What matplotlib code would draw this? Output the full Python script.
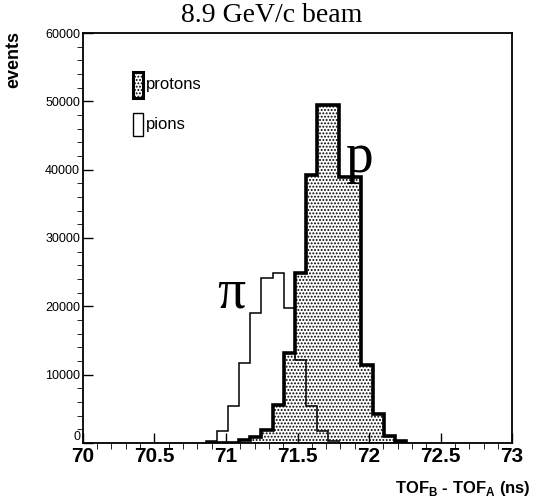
import numpy as np
import matplotlib.pyplot as plt

plt.rcParams['mathtext.fontset'] = 'custom'
plt.rcParams['mathtext.bf'] = 'Liberation Sans:bold'
plt.rcParams['hatch.linewidth'] = 0.9

# time-of-flight histograms, common binning
bin_width = 0.0776
first_edge = 70.86
pion_counts = [300, 1800, 5400, 11700, 19000, 24200, 24900, 19800, 12200,
               5400, 1800, 300, 0, 0, 0, 0, 0, 0]
proton_counts = [0, 0, 0, 400, 900, 1900, 5500, 13200, 24900, 39200,
                 49500, 49500, 39000, 39000, 11400, 4200, 1000, 300]
edges = first_edge + bin_width * np.arange(len(pion_counts) + 1)

fig = plt.figure(figsize=(5.38, 5.01), dpi=100)
ax = fig.add_axes([0.154, 0.116, 0.798, 0.818])

# protons: dotted fill plus thick outline
ax.stairs(proton_counts, edges, fill=True, facecolor='white', edgecolor='black',
          hatch='.....', linewidth=0)
ax.stairs(proton_counts, edges, color='black', linewidth=2.6)
# pions: thin outline only
ax.stairs(pion_counts, edges, color='black', linewidth=1.1)

ax.set_xlim(70, 73)
ax.set_ylim(0, 60000)
ax.set_xticks(np.arange(70, 73.01, 0.5))
ax.set_xticklabels(['70', '70.5', '71', '71.5', '72', '72.5', '73'])
ax.set_xticks(np.arange(70, 73.01, 0.1), minor=True)
ax.set_yticks(np.arange(0, 60001, 10000))
ax.set_yticks(np.arange(0, 60001, 2000), minor=True)
ax.tick_params(direction='in', top=False, right=False, width=1.0)
ax.tick_params(which='major', length=7)
ax.tick_params(which='minor', length=4)
for lab in ax.get_xticklabels():
    lab.set_fontfamily('Liberation Sans')
    lab.set_fontweight('bold')
    lab.set_fontsize(15)
for lab in ax.get_yticklabels():
    lab.set_fontfamily('Liberation Sans')
    lab.set_fontsize(9)
# lift the zero label so it clears the x labels
ax.get_yticklabels()[0].set_verticalalignment('bottom')
ax.tick_params(axis='y', pad=2)
ax.tick_params(axis='x', pad=3)
for sp in ax.spines.values():
    sp.set_linewidth(1.3)

ax.set_ylabel('events', fontfamily='Liberation Sans', fontweight='bold',
              fontsize=13)
ax.yaxis.set_label_coords(-0.14, 0.935)
ax.set_xlabel(r'TOF$_{\mathbf{B}}$ - TOF$_{\mathbf{A}}$ (ns)',
              fontfamily='Liberation Sans', fontweight='bold', fontsize=12)
ax.xaxis.set_label_coords(1.043, -0.088)
ax.xaxis.label.set_horizontalalignment('right')

fig.text(0.505, 0.957, '8.9 GeV/c beam', fontfamily='Liberation Serif',
         fontsize=20, ha='center', va='baseline')

# hand-drawn style legend
lx, lw_ = 70.35, 0.07
ax.add_patch(plt.Rectangle((lx, 50500), lw_, 3800, facecolor='white',
                           edgecolor='black', hatch='.....', linewidth=2.2))
ax.add_patch(plt.Rectangle((lx, 44900), lw_, 3400, facecolor='white',
                           edgecolor='black', linewidth=1.0))
ax.text(lx + lw_ + 0.02, 52400, 'protons', fontfamily='Liberation Sans',
        fontsize=12, va='center')
ax.text(lx + lw_ + 0.02, 46600, 'pions', fontfamily='Liberation Sans',
        fontsize=12, va='center')

ax.text(71.035, 21800, 'π', fontfamily='Liberation Serif', fontsize=40,
        ha='center', va='center')
ax.text(71.93, 41700, 'p', fontfamily='Liberation Serif', fontsize=40,
        ha='center', va='center')

fig.savefig('out.png', dpi=100)
